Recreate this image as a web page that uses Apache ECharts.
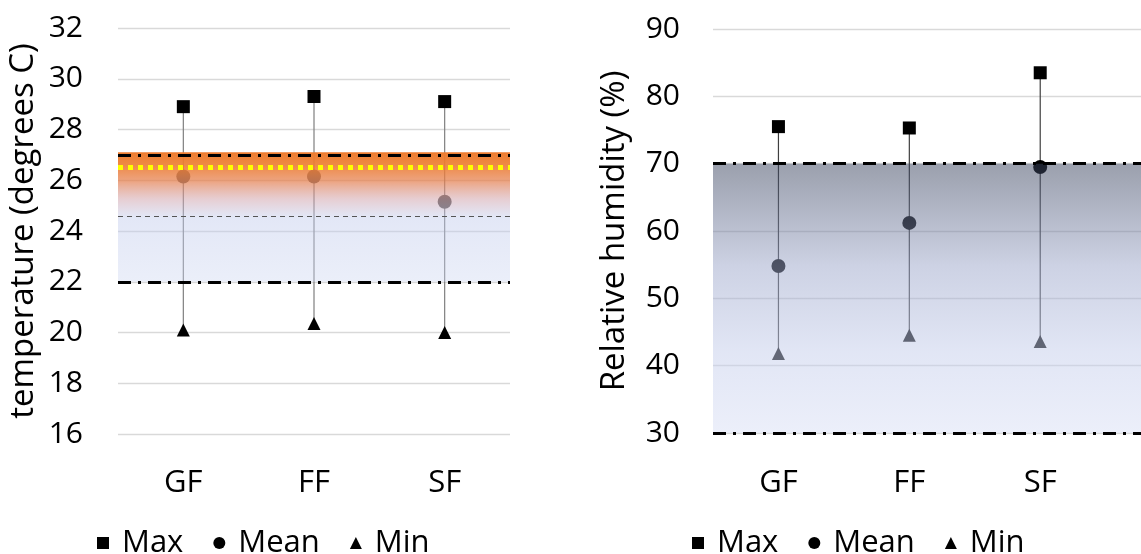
<!DOCTYPE html>
<html>
<head>
<meta charset="utf-8">
<script src="https://cdn.jsdelivr.net/npm/echarts@6/dist/echarts.min.js"></script>
<style>
html, body { margin: 0; padding: 0; background: #fff; }
#main { width: 1141px; height: 554px; }
</style>
</head>
<body>
<div id="main"></div>
<script>
// floors
var categories = ['GF', 'FF', 'SF'];

// temperature (degrees C)
var tempMax = [28.9, 29.3, 29.1];
var tempMean = [26.15, 26.15, 25.15];
var tempMin = [20.1, 20.35, 20.0];
var tempLimits = [22, 27];      // dash-dot lines
var tempBand = [22, 27.1];      // shaded comfort band
var tempYellow = 26.5;          // yellow dotted line
var tempDashed = 24.6;          // thin dashed line
var tempAxis = [16, 32, 2];     // min, max, interval

// relative humidity (%)
var rhMax = [75.5, 75.3, 83.5];
var rhMean = [54.8, 61.2, 69.5];
var rhMin = [41.8, 44.5, 43.6];
var rhLimits = [30, 70];
var rhAxis = [30, 90, 10];

var FONT = 'Open Sans';
var myChart = echarts.init(document.getElementById('main'));

function errorBar(gridIdx, lo, hi, color, xs) {
    return {
        type: 'custom',
        xAxisIndex: gridIdx,
        yAxisIndex: gridIdx,
        z: 2,
        silent: true,
        data: categories.map(function (c, i) { return [xs ? i + 1 : i, lo[i], hi[i]]; }),
        renderItem: function (params, api) {
            var a = api.coord([api.value(0), api.value(1)]);
            var b = api.coord([api.value(0), api.value(2)]);
            return {
                type: 'line',
                shape: { x1: a[0], y1: a[1], x2: b[0], y2: b[1] },
                style: { stroke: color, lineWidth: 1.2 }
            };
        }
    };
}

function points(gridIdx, name, symbol, size, vals, color, xs) {
    return {
        name: name,
        type: 'scatter',
        xAxisIndex: gridIdx,
        yAxisIndex: gridIdx,
        z: 3,
        symbol: symbol,
        symbolSize: size,
        itemStyle: { color: color, opacity: 1 },
        data: vals.map(function (v, i) { return xs ? [i + 1, v] : v; })
    };
}

function dashDot(v) {
    return {
        yAxis: v,
        lineStyle: { color: '#000', width: 3, type: [13, 7, 3, 7] }
    };
}

var legendData = [
    { name: 'Max', icon: 'rect', itemStyle: { color: '#000' } },
    { name: 'Mean', icon: 'circle', itemStyle: { color: '#000' } },
    { name: 'Min', icon: 'triangle', itemStyle: { color: '#000' } }
];
var legendText = { fontFamily: FONT, fontSize: 31, color: '#000', padding: [0, 0, 0, 8], lineHeight: 36 };

var option = {
    animation: false,
    backgroundColor: '#fff',
    textStyle: { fontFamily: FONT },
    legend: [
        { left: 92, top: 520, itemWidth: 12, itemHeight: 12, itemGap: 30, selectedMode: false,
          textStyle: legendText, data: legendData },
        { left: 687, top: 520, itemWidth: 12, itemHeight: 12, itemGap: 30, selectedMode: false,
          textStyle: legendText, data: legendData }
    ],
    grid: [
        { left: 118, width: 392, top: 28, height: 406 },
        { left: 713, right: 0, top: 29, height: 404 }
    ],
    xAxis: [
        {
            type: 'category', gridIndex: 0, data: categories, boundaryGap: true,
            axisLine: { show: false }, axisTick: { show: false },
            axisLabel: { fontFamily: FONT, fontSize: 31, color: '#000', margin: 34 }
        },
        {
            type: 'value', gridIndex: 1, min: 0.5, max: 3.77,
            axisLine: { show: false }, axisTick: { show: false }, splitLine: { show: false },
            axisLabel: {
                fontFamily: FONT, fontSize: 31, color: '#000', margin: 35,
                customValues: [1, 2, 3],
                formatter: function (v) { return categories[Math.round(v) - 1] || ''; }
            }
        }
    ],
    yAxis: [
        {
            type: 'value', gridIndex: 0, min: tempAxis[0], max: tempAxis[1], interval: tempAxis[2],
            name: 'temperature (degrees C)', nameLocation: 'middle', nameRotate: 90, nameGap: 78,
            nameTextStyle: { fontFamily: FONT, fontSize: 33, color: '#000' },
            axisLine: { show: false }, axisTick: { show: false },
            axisLabel: { fontFamily: FONT, fontSize: 30, color: '#000', margin: 35 },
            splitLine: { lineStyle: { color: '#d9d9d9', width: 1.3 } }
        },
        {
            type: 'value', gridIndex: 1, min: rhAxis[0], max: rhAxis[1], interval: rhAxis[2],
            name: 'Relative humidity (%)', nameLocation: 'middle', nameRotate: 90, nameGap: 82,
            nameTextStyle: { fontFamily: FONT, fontSize: 33, color: '#000' },
            axisLine: { show: false }, axisTick: { show: false },
            axisLabel: { fontFamily: FONT, fontSize: 30, color: '#000', margin: 33 },
            splitLine: { lineStyle: { color: '#d9d9d9', width: 1.3 } }
        }
    ],
    series: [
        // temperature panel
        errorBar(0, tempMin, tempMax, '#7f7f7f', false),
        points(0, 'Max', 'rect', 13, tempMax, '#000', false),
        points(0, 'Mean', 'circle', 14, tempMean, '#505050', false),
        points(0, 'Min', 'triangle', 13, tempMin, '#000', false),
        {
            type: 'line', xAxisIndex: 0, yAxisIndex: 0, data: [], z: 4, silent: true,
            markArea: {
                silent: true, z: 10,
                itemStyle: {
                    color: {
                        type: 'linear', x: 0, y: 0, x2: 0, y2: 1,
                        colorStops: [
                            { offset: 0, color: 'rgba(237,125,49,1)' },
                            { offset: 0.1, color: 'rgba(237,125,49,0.9)' },
                            { offset: 0.22, color: 'rgba(230,128,78,0.72)' },
                            { offset: 0.36, color: 'rgba(208,160,168,0.52)' },
                            { offset: 0.5, color: 'rgba(192,202,236,0.45)' },
                            { offset: 1, color: 'rgba(202,212,240,0.38)' }
                        ]
                    }
                },
                data: [[{ yAxis: tempBand[1] }, { yAxis: tempBand[0] }]]
            }
        },
        {
            type: 'line', xAxisIndex: 0, yAxisIndex: 0, data: [], z: 5, silent: true,
            markLine: {
                silent: true, z: 11, symbol: 'none', label: { show: false },
                data: [
                    dashDot(tempLimits[0]),
                    dashDot(tempLimits[1]),
                    { yAxis: tempYellow, lineStyle: { color: '#ffff00', width: 5, type: [5, 5] } },
                    { yAxis: tempDashed, lineStyle: { color: '#555', width: 1.2, type: [5, 4] } }
                ]
            }
        },
        // humidity panel
        errorBar(1, rhMin, rhMax, '#3f3f3f', true),
        points(1, 'Max', 'rect', 13, rhMax, '#000', true),
        points(1, 'Mean', 'circle', 14, rhMean, '#000', true),
        points(1, 'Min', 'triangle', 13, rhMin, '#000', true),
        {
            type: 'line', xAxisIndex: 1, yAxisIndex: 1, data: [], z: 4, silent: true,
            markArea: {
                silent: true, z: 10,
                itemStyle: {
                    color: {
                        type: 'linear', x: 0, y: 0, x2: 0, y2: 1,
                        colorStops: [
                            { offset: 0, color: 'rgba(55,65,91,0.5)' },
                            { offset: 0.38, color: 'rgba(155,165,201,0.5)' },
                            { offset: 0.7, color: 'rgba(196,205,235,0.5)' },
                            { offset: 1, color: 'rgba(217,223,245,0.5)' }
                        ]
                    }
                },
                data: [[{ yAxis: rhLimits[1] }, { yAxis: rhLimits[0] }]]
            }
        },
        {
            type: 'line', xAxisIndex: 1, yAxisIndex: 1, data: [], z: 5, silent: true,
            markLine: {
                silent: true, z: 11, symbol: 'none', label: { show: false },
                data: [dashDot(rhLimits[0]), dashDot(rhLimits[1])]
            }
        }
    ]
};

myChart.setOption(option);
</script>
</body>
</html>
